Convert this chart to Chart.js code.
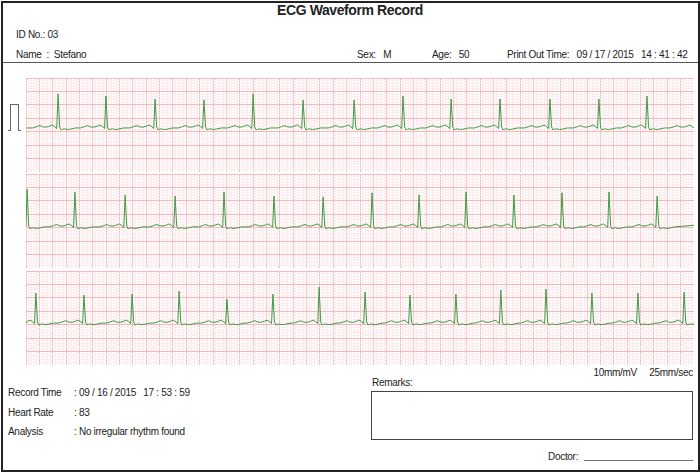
<!DOCTYPE html>
<html>
<head>
<meta charset="utf-8">
<script src="https://cdn.jsdelivr.net/npm/chart.js@4"></script>
<style>
  body { margin: 0; background: #fff; font-family: "Liberation Sans", Arial, sans-serif; font-size: 10px; color: #222; }
  #page { position: relative; width: 700px; height: 472px; overflow: hidden; }
  #frame { position: absolute; left: 1px; top: 1px; width: 695px; height: 467px; border: 2px solid #222; }
  .t { position: absolute; white-space: nowrap; letter-spacing: -0.3px; }
  .strip { position: absolute; left: 26px; width: 668px; height: 94px; }
  #cal { position: absolute; left: 10px; top: 104px; width: 7px; height: 26px; border: 1px solid #666; border-bottom: none; }
  #cal:before, #cal:after { content: ""; position: absolute; bottom: 0; width: 2px; border-top: 1px solid #666; }
  #cal:before { left: -3px; } #cal:after { right: -3px; }
</style>
</head>
<body>
<div id="page">
  <div id="frame"></div>
  <div class="t" style="left:0;width:700px;text-align:center;top:2px;font-size:14px;font-weight:bold;letter-spacing:-0.4px;">ECG Waveform Record</div>
  <div class="t" style="left:16px;top:29px;">ID No.: 03</div>
  <div class="t" style="left:16px;top:49px;">Name&nbsp; :&nbsp; Stefano</div>
  <div class="t" style="left:357px;top:49px;">Sex:&nbsp;&nbsp; M</div>
  <div class="t" style="left:432px;top:49px;">Age:&nbsp;&nbsp; 50</div>
  <div class="t" style="left:507px;top:49px;">Print Out Time:&nbsp;&nbsp; 09 / 17 / 2015&nbsp;&nbsp; 14 : 41 : 42</div>
  <div style="position:absolute;left:2px;top:62px;width:696px;border-top:1px solid #555;"></div>
  <div id="cal"></div>
  <div class="strip" style="top:78px;"><canvas id="s1"></canvas></div>
  <div class="strip" style="top:174px;"><canvas id="s2"></canvas></div>
  <div class="strip" style="top:271px;"><canvas id="s3"></canvas></div>
  <div class="t" style="right:7px;top:367px;">10mm/mV&nbsp;&nbsp;&nbsp;&nbsp; 25mm/sec</div>
  <div class="t" style="left:372px;top:377px;">Remarks:</div>
  <div style="position:absolute;left:371px;top:391px;width:320px;height:47px;border:1px solid #444;"></div>
  <div class="t" style="left:8px;top:387px;">Record Time</div>
  <div class="t" style="left:74px;top:387px;">: 09 / 16 / 2015&nbsp;&nbsp; 17 : 53 : 59</div>
  <div class="t" style="left:8px;top:407px;">Heart Rate</div>
  <div class="t" style="left:74px;top:407px;">: 83</div>
  <div class="t" style="left:8px;top:426px;">Analysis</div>
  <div class="t" style="left:74px;top:426px;">: No irregular rhythm found</div>
  <div class="t" style="left:548px;top:451px;">Doctor:</div>
  <div style="position:absolute;left:584px;top:460px;width:109px;border-top:1px solid #777;"></div>
</div>
<script>
// paper: 250 mm wide (10 s at 25 mm/s), 35 mm high per strip
// R peak positions (mm) and R heights (mm above baseline) read from the record
var beats1 = [12.0, 29.9, 48.3, 66.6, 85.0, 103.7, 122.8, 141.1, 159.1, 177.4, 196.1, 214.4, 232.4, 250.6];
var amps1 = [12.7, 11.9, 10.8, 10.4, 12.7, 10.4, 10.4, 11.9, 10.8, 10.8, 10.8, 10.8, 11.9, 12.0];
var base1 = 16.4;

var beats2 = [0.4, 18.3, 37.1, 55.8, 74.1, 92.8, 111.2, 129.5, 147.1, 164.7, 182.6, 200.6, 218.2, 236.2];
var amps2 = [14.0, 13.0, 11.9, 11.5, 13.0, 11.5, 11.2, 12.7, 11.9, 13.0, 11.9, 12.7, 13.0, 11.5];
var base2 = 15.3;

var beats3 = [3.7, 21.7, 39.7, 57.3, 75.2, 92.4, 109.7, 126.9, 143.7, 160.9, 177.7, 194.6, 211.8, 229.0, 246.3];
var amps3 = [11.2, 10.4, 10.8, 11.9, 8.9, 10.8, 13.4, 11.5, 10.4, 10.8, 12.3, 12.7, 11.2, 11.2, 11.5];
var base3 = 15.6;

// one PQRST complex: offset from R (mm), level (mm); R level is replaced by the beat's height
var shapeDx = [-9.5, -8, -6.8, -5.8, -4.5, -3.2, -2.2, -1.2, -0.8, -0.5, 0, 0.6, 1.1, 1.6, 2.4, 3.5, 4.8, 6.5];
var shapeDy = [0, 0.5, 0.9, 0.4, 0.3, 0.7, 1.1, 0.5, 0, -0.2, null, 0.4, -0.7, -0.5, -0.3, -0.6, -0.4, 0];
// level at the strip ends (mm above baseline)
var edges1 = [0, 0.4], edges2 = [0, 0.6], edges3 = [0, 0];

function waveform(beats, amps, base, edges) {
  var pts = [{ x: 0, y: base + edges[0] }, { x: 250, y: base + edges[1] }];
  beats.forEach(function (b, i) {
    shapeDx.forEach(function (dx, k) {
      var y = shapeDy[k] === null ? amps[i] : shapeDy[k];
      var x = b + dx;
      if (x > 0 && x < 250) pts.push({ x: x, y: base + y });
    });
  });
  pts.sort(function (a, b) { return a.x - b.x; });
  return pts;
}

function gridColor(c) { return c.tick.value % 5 === 0 ? '#f6b8ba' : '#fdeced'; }

function paper(id, beats, amps, base, edges) {
  new Chart(document.getElementById(id), {
    type: 'line',
    data: {
      datasets: [{
        data: waveform(beats, amps, base, edges),
        borderColor: '#3f9a45',
        borderWidth: 1,
        pointRadius: 0,
        tension: 0
      }]
    },
    options: {
      responsive: true,
      maintainAspectRatio: false,
      animation: false,
      layout: { padding: 0 },
      plugins: { legend: { display: false }, tooltip: { enabled: false } },
      scales: {
        x: {
          type: 'linear', min: 0, max: 250,
          ticks: { display: false, stepSize: 1, autoSkip: false, maxTicksLimit: 400 },
          grid: { drawTicks: false, color: gridColor },
          border: { display: false }
        },
        y: {
          min: 0, max: 35,
          ticks: { display: false, stepSize: 1, autoSkip: false, maxTicksLimit: 100 },
          grid: { drawTicks: false, color: gridColor },
          border: { display: false }
        }
      }
    }
  });
}

paper('s1', beats1, amps1, base1, edges1);
paper('s2', beats2, amps2, base2, edges2);
paper('s3', beats3, amps3, base3, edges3);
</script>
</body>
</html>
